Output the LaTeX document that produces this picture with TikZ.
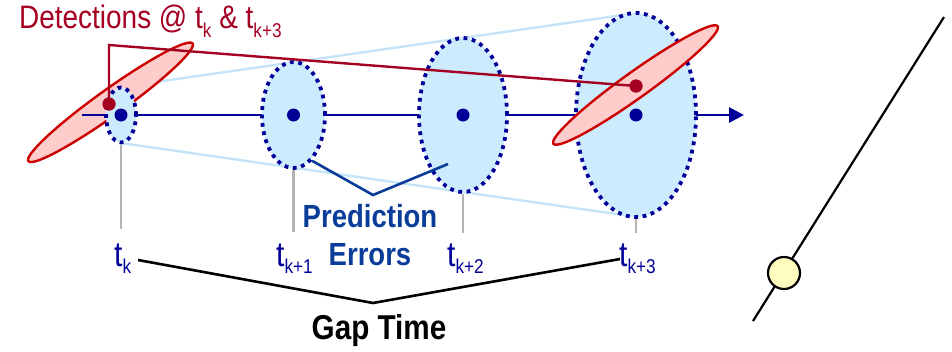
\documentclass[tikz,border=0pt]{standalone}
\usepackage{fontspec}
\setmainfont{Liberation Sans}
\newfontfamily\narrow[FakeStretch=0.86]{Liberation Sans}
\usetikzlibrary{shapes.geometric,arrows.meta}
\definecolor{navy}{HTML}{000099}
\definecolor{lblue}{HTML}{CCEBFD}
\definecolor{tanblue}{HTML}{C4E4F8}
\definecolor{pinkfill}{HTML}{FFCCCC}
\definecolor{redline}{HTML}{CC0000}
\definecolor{darkred}{HTML}{A50021}
\definecolor{tickgray}{HTML}{B4B4B4}
\definecolor{perrblue}{HTML}{0A3C99}
\newcommand{\lowsub}[2]{\raisebox{-#1pt}{\fontsize{20}{20}\selectfont #2}}
\begin{document}
\begin{tikzpicture}[x=1pt,y=-1pt,
  conebox/.style={ellipse, draw=navy, fill=lblue, line width=3.8pt,
    dash pattern=on 3.8pt off 4.6pt, inner sep=0pt},
  cdot/.style={circle, fill=navy, minimum size=13pt, inner sep=0pt},
  rdot/.style={circle, fill=darkred, minimum size=13pt, inner sep=0pt},
  detell/.style={ellipse, draw=redline, fill=pinkfill, line width=2.4pt,
    minimum width=202pt, minimum height=26pt, inner sep=0pt, rotate=35.6},
  tanline/.style={draw=tanblue, line width=2.4pt},
  tickline/.style={draw=tickgray, line width=2.6pt},
  tlabel/.style={anchor=base west, inner sep=0pt, text=navy,
    font=\narrow\fontsize{35}{35}\selectfont},
  perr/.style={draw=perrblue, line width=2.6pt},
  gapline/.style={draw=black, line width=2.6pt},
]
\useasboundingbox (0,0) rectangle (952,351);

% cone tangent lines
\coordinate (ta) at (121,87);
\coordinate (tb) at (630,14);
\coordinate (tc) at (121,143);
\coordinate (td) at (630,216);
\draw[tanline] (ta) -- (tb);
\draw[tanline] (tc) -- (td);

% first detection ellipse (behind)
\node[detell] (d1) at (110.5,102.3) {};

% main track line
\coordinate (ls) at (82,115);
\coordinate (le) at (744,115);
\draw[navy, line width=2.8pt, -{Triangle[length=15pt,width=15pt]}] (ls) -- (le);

% prediction ellipses
\node[conebox, minimum width=30pt, minimum height=55pt] (e1) at (121,115) {};
\node[conebox, minimum width=63pt, minimum height=106pt] (e2) at (293.5,115) {};
\node[conebox, minimum width=88pt, minimum height=154pt] (e3) at (463,115) {};
\node[conebox, minimum width=120pt, minimum height=204pt] (e4) at (636,115) {};

\node[cdot] (c1) at (e1.center) {};
\node[cdot] (c2) at (e2.center) {};
\node[cdot] (c3) at (e3.center) {};
\node[cdot] (c4) at (e4.center) {};

% second detection ellipse (on top)
\node[detell] (d2) at (635.5,85) {};

% detection dots and connector
\node[rdot] (r1) at (109,104) {};
\node[rdot] (r2) at (636,86) {};
\coordinate (dk) at (108,45);
\draw[darkred, line width=2.4pt] (r1.center) -- (r1.center |- dk) -- (r2.center);
\node[rdot] at (r1.center) {};
\node[rdot] at (r2.center) {};

\node[anchor=base west, inner sep=0pt, text=darkred,
  font=\narrow\fontsize{32.5}{32.5}\selectfont] (det) at (19,28)
  {Detections @ t\lowsub{9.5}{k} \& t\lowsub{9.5}{k+3}};

% ticks
\draw[tickline] (e1.south) -- (e1.south |- 0,229);
\draw[tickline] (e2.south) -- (e2.south |- 0,232);
\draw[tickline] (e3.south) -- (e3.south |- 0,233);
\draw[tickline] (e4.south) -- (e4.south |- 0,233);

% time labels
\node[tlabel] (tk) at (114,266) {t\lowsub{7}{k}};
\node[tlabel] (tk1) at (276,266) {t\lowsub{7}{k+1}};
\node[tlabel] (tk2) at (447,266) {t\lowsub{7}{k+2}};
\node[tlabel] (tk3) at (619,266) {t\lowsub{7}{k+3}};

% prediction errors pointer
\coordinate (pv) at (373,195);
\coordinate (pe) at (448,164);
\draw[perr] (e2.-68) -- (pv) -- (pe);
\node[anchor=base, inner sep=0pt, text=perrblue,
  font=\narrow\bfseries\fontsize{32}{32}\selectfont] (pred) at (370,227) {Prediction};
\node[anchor=base, inner sep=0pt, text=perrblue,
  font=\narrow\bfseries\fontsize{32}{32}\selectfont] (errs) at (370,265) {Errors};

% gap time bracket
\coordinate (ga) at (138,260);
\coordinate (gv) at (373,303);
\coordinate (gb) at (620,259);
\draw[gapline] (ga) -- (gv) -- (gb);
\node[anchor=base, inner sep=0pt,
  font=\narrow\bfseries\fontsize{34.5}{34.5}\selectfont] (gap) at (379,339) {Gap Time};

% right-hand line with bead
\coordinate (la) at (753,321);
\coordinate (lb) at (944,17);
\draw[black, line width=2.2pt] (la) -- (lb);
\node[circle, draw=black, fill=yellow!25, line width=2.2pt,
  minimum size=32pt, inner sep=0pt] (bead) at (784,273) {};
\end{tikzpicture}
\end{document}
